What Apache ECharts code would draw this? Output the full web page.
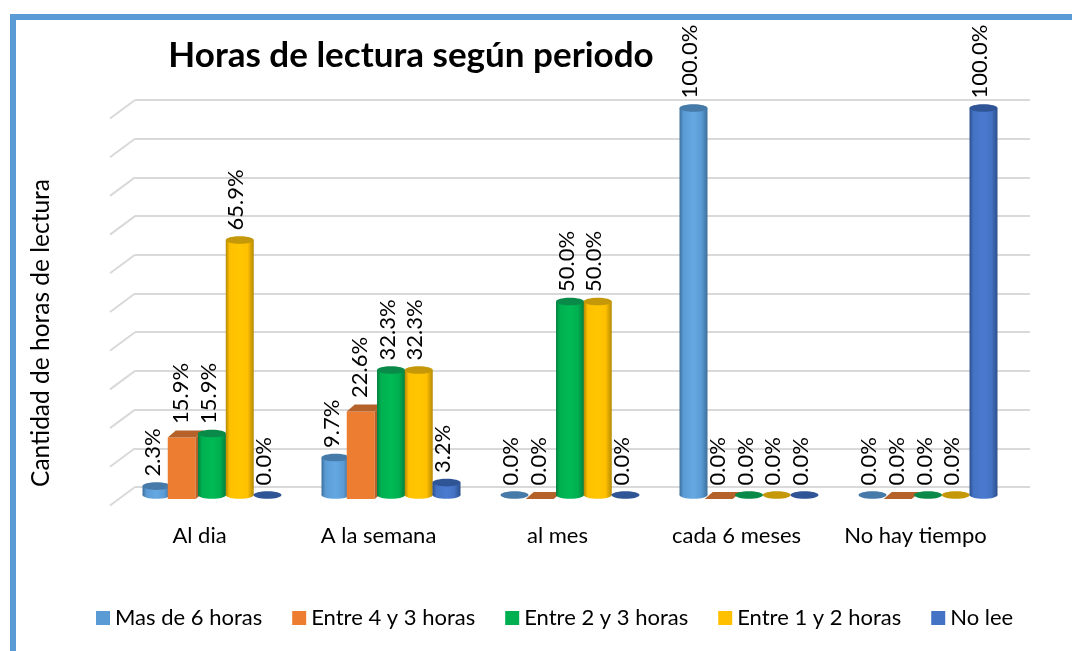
<!DOCTYPE html>
<html>
<head>
<meta charset="utf-8">
<style>html,body{margin:0;padding:0;background:#fff}#c{width:1072px;height:651px}</style>
<script src="https://cdn.jsdelivr.net/npm/echarts@6/dist/echarts.min.js"></script>
</head>
<body>
<div id="c"></div>
<script>
const categories = ['Al dia', 'A la semana', 'al mes', 'cada 6 meses', 'No hay tiempo'];
const masDe6 = [2.3, 9.7, 0, 100, 0];
const entre4y3 = [15.9, 22.6, 0, 0, 0];
const entre2y3 = [15.9, 32.3, 50, 0, 0];
const entre1y2 = [65.9, 32.3, 50, 0, 0];
const noLee = [0, 3.2, 0, 0, 100];
const gridTicks = [0, 10, 20, 30, 40, 50, 60, 70, 80, 90, 100];
const seriesNames = ['Mas de 6 horas', 'Entre 4 y 3 horas', 'Entre 2 y 3 horas', 'Entre 1 y 2 horas', 'No lee'];
const seriesValues = [masDe6, entre4y3, entre2y3, entre1y2, noLee];
const palette = [
  {base:'#5b9bd5', light:'#64a8e2', dark:'#3c6f9c', top:'#467aa8'},
  {base:'#ed7d31', light:'#ed7d31', dark:'#b5622a', top:'#b5622a'},
  {base:'#00b050', light:'#00ba55', dark:'#058040', top:'#0a8a48'},
  {base:'#ffc000', light:'#ffc600', dark:'#b58a06', top:'#c49808'},
  {base:'#4472c4', light:'#4a7ad0', dark:'#2d4f8c', top:'#2f5597'}
];
const FONT = 'Lato, "Open Sans", sans-serif';

function gradient(p) {
  return new echarts.graphic.LinearGradient(0, 0, 1, 0, [
    {offset: 0, color: p.dark},
    {offset: 0.14, color: p.base},
    {offset: 0.5, color: p.light},
    {offset: 0.78, color: p.base},
    {offset: 1, color: p.dark}
  ]);
}

function valueLabel(x, y, v) {
  return {
    type: 'text', x: x, y: y, rotation: Math.PI / 2, z2: 50,
    style: {text: v.toFixed(1) + '%', align: 'left', verticalAlign: 'middle',
            font: '22px ' + FONT, fill: '#000'}
  };
}

function barRenderer(si) {
  const p = palette[si];
  return function (params, api) {
    const i = api.value(0), v = api.value(1);
    const cx = api.coord([i, 0])[0] - 12.5 + (si - 2) * 27.75;
    const backBase = api.coord([i, 0])[1];
    const rise = backBase - api.coord([i, v])[1];
    const children = [];
    if (si === 1) {
      const l = cx - 16.5, r = l + 28, b = backBase + 12, t = b - rise;
      const dx = 8, dy = 7;
      if (v > 0) {
        children.push({type: 'rect', shape: {x: l, y: t, width: 28, height: b - t}, style: {fill: p.base}});
        children.push({type: 'polygon', shape: {points: [[r, t], [r + dx, t - dy], [r + dx, b - dy], [r, b]]}, style: {fill: p.dark}});
      }
      children.push({type: 'polygon', shape: {points: [[l, t], [r, t], [r + dx, t - dy], [l + dx, t - dy]]}, style: {fill: p.top}});
    } else {
      const base = backBase + 8, top = base - rise;
      if (v > 0) {
        children.push({type: 'ellipse', shape: {cx: cx, cy: base, rx: 14, ry: 3.8}, style: {fill: gradient(p)}});
        children.push({type: 'rect', shape: {x: cx - 14, y: top, width: 28, height: base - top}, style: {fill: gradient(p)}});
      }
      children.push({type: 'ellipse', shape: {cx: cx, cy: top, rx: 14, ry: 3.8}, style: {fill: p.top}});
    }
    children.push(valueLabel(cx - 3.5, backBase + 8 - rise - 9.5, v));
    return {type: 'group', children: children};
  };
}

const chart = echarts.init(document.getElementById('c'), null, {renderer: 'canvas'});
chart.setOption({
  animation: false,
  backgroundColor: '#fff',
  textStyle: {fontFamily: FONT},
  graphic: [
    {type: 'rect', z: -1, shape: {x: 10, y: 14, width: 1062, height: 6}, style: {fill: '#5b9bd5'}},
    {type: 'rect', z: -1, shape: {x: 10, y: 14, width: 6, height: 637}, style: {fill: '#5b9bd5'}},
    {type: 'text', x: 41, y: 333, rotation: Math.PI / 2,
     style: {text: 'Cantidad de horas de lectura', align: 'center', verticalAlign: 'middle',
             font: '24.5px ' + FONT, fill: '#000'}}
  ],
  title: {
    text: 'Horas de lectura según periodo', left: 406, top: 33, textAlign: 'center',
    textStyle: {fontFamily: FONT, fontSize: 35, fontWeight: 'bold', color: '#000'}
  },
  legend: {
    left: 91, top: 602, icon: 'rect', itemWidth: 14, itemHeight: 14, itemGap: 30,
    data: seriesNames,
    textStyle: {fontFamily: FONT, fontSize: 22, color: '#000'},
    selectedMode: false
  },
  grid: [
    {left: 135, top: 100, width: 895, height: 387},
    {left: 110, top: 118, width: 895, height: 387}
  ],
  xAxis: [
    {type: 'category', gridIndex: 0, data: categories, axisLine: {show: false}, axisTick: {show: false}, axisLabel: {show: false}},
    {type: 'category', gridIndex: 1, data: categories, axisLine: {show: false}, axisTick: {show: false},
     axisLabel: {interval: 0, margin: 20, fontFamily: FONT, fontSize: 22, color: '#000'}}
  ],
  yAxis: [
    {type: 'value', gridIndex: 0, min: 0, max: 100, interval: 10, axisLine: {show: false}, axisTick: {show: false}, axisLabel: {show: false},
     splitLine: {show: true, lineStyle: {color: '#d9d9d9', width: 2}}},
    {type: 'value', gridIndex: 1, min: 0, max: 100, interval: 10, show: false, splitLine: {show: false}}
  ],
  series: [
    {
      type: 'custom', name: 'pared', xAxisIndex: 0, yAxisIndex: 0, silent: true, clip: false, z: 1,
      data: gridTicks.map(t => [0, t]), encode: {x: 0, y: 1},
      renderItem: function (params, api) {
        const band = api.size([1, 0])[0];
        const pt = api.coord([0, api.value(1)]);
        const x = pt[0] - band / 2;
        return {type: 'line', shape: {x1: x, y1: pt[1], x2: x - 25, y2: pt[1] + 18.5},
                style: {stroke: '#d9d9d9', lineWidth: 2, fill: null}};
      }
    }
  ].concat(seriesNames.map((name, si) => ({
    type: 'custom', name: name, xAxisIndex: 0, yAxisIndex: 0, clip: false, z: 2 + si,
    itemStyle: {color: palette[si].base},
    data: seriesValues[si].map((v, i) => [i, v]), encode: {x: 0, y: 1},
    renderItem: barRenderer(si)
  })))
});
</script>
</body>
</html>
